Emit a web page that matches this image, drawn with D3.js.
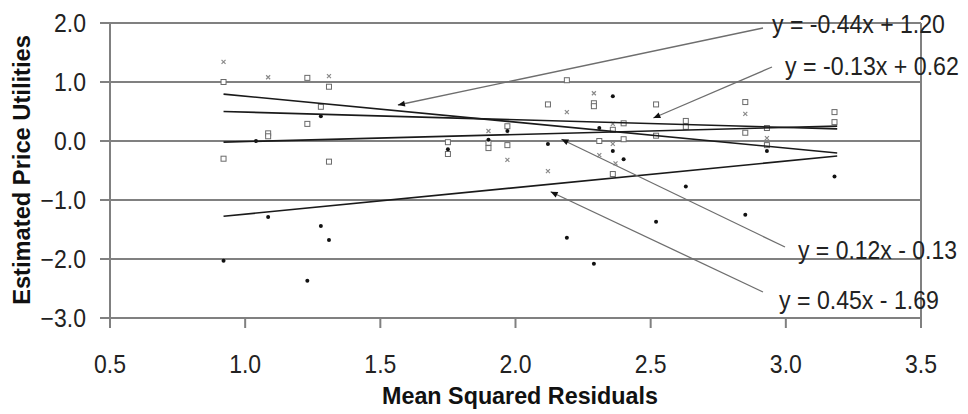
<!DOCTYPE html>
<html>
<head>
<meta charset="utf-8">
<script src="https://cdn.jsdelivr.net/npm/d3@7"></script>
<style>
  html, body { margin: 0; padding: 0; background: #fff; }
  svg { display: block; font-family: "Liberation Sans", Arial, sans-serif; }
</style>
</head>
<body>
<svg id="chart" width="968" height="414"></svg>
<script>
// ---------- DATA ----------
const xTickValues = [0.5, 1.0, 1.5, 2.0, 2.5, 3.0, 3.5];
const yTickValues = [-3.0, -2.0, -1.0, 0.0, 1.0, 2.0];

// Series 1 (x markers)
const s1X = [0.92, 1.085, 1.31, 1.90, 1.97, 2.12, 2.19, 2.29, 2.31, 2.36, 2.36, 2.37, 2.85, 2.93];
const s1Y = [1.34, 1.08, 1.10, 0.17, -0.32, -0.51, 0.49, 0.81, -0.24, 0.29, -0.05, -0.38, 0.46, 0.05];
// Series 2 (open squares)
const s2X = [0.92, 1.085, 1.23, 1.28, 1.31, 1.75, 1.90, 1.97, 2.12, 2.19, 2.29, 2.31, 2.36, 2.40, 2.52, 2.63, 2.85, 2.93, 3.18];
const s2Y = [1.00, 0.13, 1.07, 0.58, 0.92, -0.02, -0.03, 0.25, 0.62, 1.03, 0.64, 0.00, 0.19, 0.30, 0.62, 0.34, 0.66, 0.22, 0.49];
// Series 3 (open squares)
const s3X = [0.92, 1.085, 1.23, 1.31, 1.75, 1.90, 1.97, 2.29, 2.36, 2.40, 2.52, 2.63, 2.85, 2.93, 3.18];
const s3Y = [-0.30, 0.08, 0.29, -0.35, -0.22, -0.12, -0.07, 0.59, -0.56, 0.03, 0.09, 0.24, 0.14, -0.07, 0.32];
// Series 4 (filled dots)
const s4X = [0.92, 1.04, 1.085, 1.23, 1.28, 1.28, 1.31, 1.75, 1.90, 1.97, 2.12, 2.19, 2.29, 2.31, 2.36, 2.36, 2.40, 2.52, 2.63, 2.85, 2.93, 3.18];
const s4Y = [-2.03, 0.00, -1.29, -2.37, 0.42, -1.44, -1.68, -0.14, 0.02, 0.17, -0.05, -1.64, -2.08, 0.22, 0.76, -0.17, -0.31, -1.37, -0.77, -1.25, -0.17, -0.60];

// Linear fits
const fitSlopes = [-0.44, -0.13, 0.12, 0.45];
const fitIntercepts = [1.20, 0.62, -0.13, -1.69];
const fitLabels = ["y = -0.44x + 1.20", "y = -0.13x + 0.62", "y = 0.12x - 0.13", "y = 0.45x - 1.69"];
const fitXRange = [0.92, 3.19];
// Data point each annotation arrow points at
const arrowTargetX = [1.565, 2.51, 2.17, 2.13];
const arrowTargetY = [0.61, 0.39, 0.03, -0.86];

const xTitle = "Mean Squared Residuals";
const yTitle = "Estimated Price Utilities";

// ---------- LAYOUT ----------
const M = { left: 110, right: 921, top: 23, bottom: 318 };
const labelLayout = [
  { tx: 772, ty: 33, len: 173, lx: 763, ly: 28 },
  { tx: 785, ty: 75, len: 174, lx: 772, ly: 67 },
  { tx: 798, ty: 259, len: 159, lx: 785, ly: 247 },
  { tx: 779, ty: 309, len: 160, lx: 763, ly: 292 }
];

const svg = d3.select("#chart");
const x = d3.scaleLinear().domain([0.5, 3.5]).range([M.left, M.right]);
const y = d3.scaleLinear().domain([-3, 2]).range([M.bottom, M.top]);

const gridColor = "#808080";

// helper: fit text horizontally into a given width with a transform (keeps bbox honest)
function fitText(sel, tx, ty, width, anchor) {
  const w = sel.node().getComputedTextLength();
  const s = width / w;
  sel.attr("x", 0).attr("y", 0).attr("text-anchor", anchor || "start")
    .attr("transform", `translate(${tx},${ty}) scale(${s},1)`);
}

// Horizontal gridlines with left tick extension
svg.append("g").selectAll("line").data(yTickValues).join("line")
  .attr("x1", M.left - 10).attr("x2", M.right)
  .attr("y1", d => y(d)).attr("y2", d => y(d))
  .attr("stroke", gridColor).attr("stroke-width", 2);

// Y axis (left) and right border
svg.append("line").attr("x1", M.left).attr("x2", M.left)
  .attr("y1", M.top).attr("y2", M.bottom + 10)
  .attr("stroke", gridColor).attr("stroke-width", 2);
svg.append("line").attr("x1", M.right).attr("x2", M.right)
  .attr("y1", M.top).attr("y2", M.bottom + 10)
  .attr("stroke", gridColor).attr("stroke-width", 2);

// X tick marks
svg.append("g").selectAll("line").data(xTickValues).join("line")
  .attr("x1", d => x(d)).attr("x2", d => x(d))
  .attr("y1", M.bottom).attr("y2", M.bottom + 10)
  .attr("stroke", gridColor).attr("stroke-width", 2);

// Tick labels (slightly condensed, like the reference)
const fmt = d3.format(".1f");
svg.append("g").selectAll("text").data(yTickValues).join("text")
  .attr("font-size", 25).attr("fill", "#222")
  .text(d => fmt(d))
  .each(function(d) {
    const sel = d3.select(this);
    const w = this.getComputedTextLength();
    sel.attr("x", 0).attr("y", 0).attr("dy", "0.36em").attr("text-anchor", "end")
      .attr("transform", `translate(86,${y(d)}) scale(0.92,1)`);
  });
svg.append("g").selectAll("text").data(xTickValues).join("text")
  .attr("font-size", 25).attr("fill", "#222")
  .text(d => fmt(d))
  .each(function(d) {
    d3.select(this).attr("x", 0).attr("y", 0).attr("text-anchor", "middle")
      .attr("transform", `translate(${x(d)},373) scale(0.92,1)`);
  });

// Axis titles
const xt = svg.append("text").attr("font-size", 24).attr("font-weight", "bold")
  .attr("fill", "#111").text(xTitle);
fitText(xt, 520, 404, 276, "middle");
const yt = svg.append("text").attr("font-size", 24).attr("font-weight", "bold")
  .attr("fill", "#111").text(yTitle);
{
  const w = yt.node().getComputedTextLength();
  yt.attr("x", 0).attr("y", 0).attr("text-anchor", "middle")
    .attr("transform", `translate(30,170) rotate(-90) scale(${270 / w},1)`);
}

// Points
const pts = svg.append("g");
const zip = (xs, ys) => xs.map((v, i) => ({ x: v, y: ys[i] }));
// series 1: x markers
pts.append("g").selectAll("path").data(zip(s1X, s1Y)).join("path")
  .attr("d", d => { const cx = x(d.x), cy = y(d.y), r = 2; return `M${cx-r},${cy-r}L${cx+r},${cy+r}M${cx-r},${cy+r}L${cx+r},${cy-r}`; })
  .attr("stroke", "#8a8a8a").attr("stroke-width", 1.2).attr("fill", "none");
// series 2 & 3: open squares
[zip(s2X, s2Y), zip(s3X, s3Y)].forEach(data => {
  pts.append("g").selectAll("rect").data(data).join("rect")
    .attr("x", d => x(d.x) - 2.5).attr("y", d => y(d.y) - 2.5)
    .attr("width", 5).attr("height", 5)
    .attr("fill", "#fff").attr("stroke", "#6a6a6a").attr("stroke-width", 1);
});
// series 4: filled dots
pts.append("g").selectAll("circle").data(zip(s4X, s4Y)).join("circle")
  .attr("cx", d => x(d.x)).attr("cy", d => y(d.y)).attr("r", 2)
  .attr("fill", "#111");

// Regression lines
svg.append("g").selectAll("line").data(fitSlopes.map((m, i) => ({ m, b: fitIntercepts[i] }))).join("line")
  .attr("x1", x(fitXRange[0])).attr("x2", x(fitXRange[1]))
  .attr("y1", d => y(d.m * fitXRange[0] + d.b))
  .attr("y2", d => y(d.m * fitXRange[1] + d.b))
  .attr("stroke", "#1a1a1a").attr("stroke-width", 1.6);

// Annotation arrows + labels
const ann = svg.append("g");
fitLabels.forEach((lab, i) => {
  const L = labelLayout[i];
  const ex = x(arrowTargetX[i]), ey = y(arrowTargetY[i]);
  ann.append("line").attr("x1", L.lx).attr("y1", L.ly).attr("x2", ex).attr("y2", ey)
    .attr("stroke", "#6e6e6e").attr("stroke-width", 1.3);
  const ang = Math.atan2(ey - L.ly, ex - L.lx);
  const hl = 7, hw = 3;
  const bx = ex - hl * Math.cos(ang), by = ey - hl * Math.sin(ang);
  const px = -Math.sin(ang) * hw, py = Math.cos(ang) * hw;
  ann.append("path")
    .attr("d", `M${ex},${ey}L${bx + px},${by + py}L${bx - px},${by - py}Z`)
    .attr("fill", "#111");
  const t = ann.append("text").attr("font-size", 25).attr("fill", "#222").text(lab);
  fitText(t, L.tx, L.ty, L.len, "start");
});
</script>
</body>
</html>
